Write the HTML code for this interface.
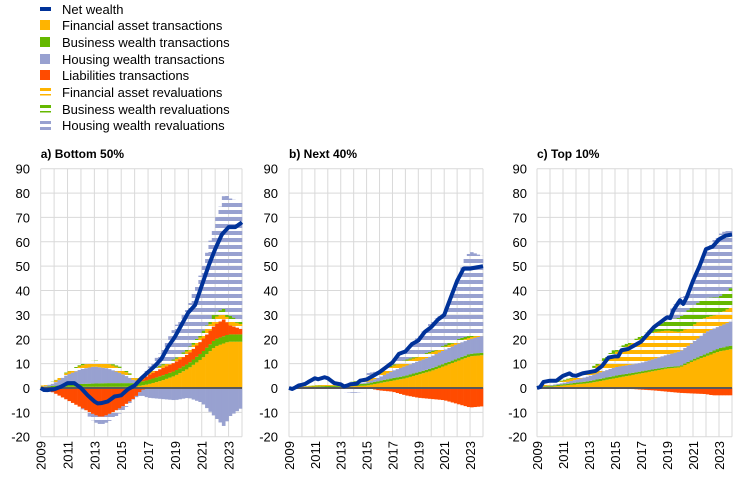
<!DOCTYPE html>
<html><head><meta charset="utf-8"><style>
html,body{margin:0;padding:0;background:#fff;}
svg{display:block;font-family:"Liberation Sans",Arial,sans-serif;}
</style></head><body>
<svg id="s" width="744" height="477" viewBox="0 0 744 477" xmlns="http://www.w3.org/2000/svg">
<defs>
<pattern id="pY" patternUnits="userSpaceOnUse" width="8" height="7"><rect width="8" height="4" fill="#ffb400"/></pattern>
<pattern id="pG" patternUnits="userSpaceOnUse" width="8" height="7"><rect width="8" height="4" fill="#65b800"/></pattern>
<pattern id="pL" patternUnits="userSpaceOnUse" width="8" height="7"><rect width="8" height="4" fill="#98a1d0"/></pattern>
</defs>
<g font-size="13" fill="#000">
<rect x="40" y="7" width="11" height="4" fill="#003299"/><text x="62" y="14">Net wealth</text>
<rect x="40" y="20" width="10" height="10" fill="#ffb400"/><text x="62" y="30">Financial asset transactions</text>
<rect x="40" y="37" width="10" height="10" fill="#65b800"/><text x="62" y="47">Business wealth transactions</text>
<rect x="40" y="54" width="10" height="10" fill="#98a1d0"/><text x="62" y="64">Housing wealth transactions</text>
<rect x="40" y="70" width="10" height="10" fill="#ff4b00"/><text x="62" y="80">Liabilities transactions</text>
<rect x="40" y="88" width="11" height="3" fill="#ffb400"/><rect x="40" y="94" width="11" height="1.5" fill="#ffb400"/><text x="62" y="97">Financial asset revaluations</text>
<rect x="40" y="105" width="11" height="3" fill="#65b800"/><rect x="40" y="111" width="11" height="1.5" fill="#65b800"/><text x="62" y="114">Business wealth revaluations</text>
<rect x="40" y="121" width="11" height="3" fill="#98a1d0"/><rect x="40" y="127" width="11" height="3" fill="#98a1d0"/><text x="62" y="130">Housing wealth revaluations</text>
</g>
<g id="charts"></g>
</svg>
<script>
var NS="http://www.w3.org/2000/svg";
var root=document.getElementById("charts");
function el(n,a,t){var e=document.createElementNS(NS,n);for(var k in a)e.setAttribute(k,a[k]);if(t!==undefined)e.textContent=t;root.appendChild(e);return e;}
function interp(pts,t){var ks=Object.keys(pts).map(Number).sort(function(a,b){return a-b});
 if(t<=ks[0])return pts[ks[0]];if(t>=ks[ks.length-1])return pts[ks[ks.length-1]];
 for(var i=0;i<ks.length-1;i++){if(t>=ks[i]&&t<=ks[i+1]){var f=(t-ks[i])/(ks[i+1]-ks[i]);return pts[ks[i]]+f*(pts[ks[i+1]]-pts[ks[i]]);}}return 0;}
var Y0=388,SC=219.3/90;
function Y(v){return Y0-v*SC;}
var C={yS:"#ffb400",gS:"#65b800",lS:"#98a1d0",rS:"#ff4b00",yP:"url(#pY)",gP:"url(#pG)",lP:"url(#pL)"};
var panels=[
{L:40.7,R:242,lab:30,title:"a) Bottom 50%",
 pos:[["yS",{2009:0,2011:0.5,2016:0.5,2017:1.5,2018:3,2019:5,2020:8,2021:12,2022:17,2023:19,2024:19}],
 ["gS",{2009:0.3,2011:1,2014:1.5,2016:1.5,2018:2,2020:2,2022:3,2024:3}],
 ["rS",{2009:0,2016:0,2016.5:0.5,2017:2,2018:3,2019:3.5,2020:4,2021:5,2022:6,2022.7:7,2023:4,2024:2}],
 ["lS",{2009:0,2010:1,2011:4,2012:6,2013:7,2014:6,2015:4,2016:1,2016.5:0,2024:0}],
 ["yP",{2009:0.5,2011:1,2013:2,2015:2,2016:1,2017:1,2019:1,2021:2,2022:3,2023:2,2024:2}],
 ["gP",{2009:0,2012:0.5,2016:0.5,2019:0.5,2021:1,2022:2,2023:2,2024:1}],
 ["lP",{2009:0,2016:0,2017:8,2018:15,2019:25,2020:33,2021:48,2022:68,2022.7:80,2023:78,2024:76},true]],
 neg:[["rS",{2009:0,2010:-2,2011:-5,2012:-8,2013:-11,2013.5:-12,2014:-11,2015:-8,2016:-4,2016.5:-1,2017:0,2024:0}],
 ["lS",{2009:0,2016:0,2016.5:-2,2017:-4,2019:-5,2020:-4,2021:-6,2022:-12,2022.7:-16,2023:-12,2024:-8}],
 ["lP",{2009:0,2012:0,2013:-3,2014:-3,2015:-2,2016:0,2024:0}]],
 line:{2009:0,2009.3:-1,2010:-0.5,2010.5:0.5,2011:2,2011.5:2,2012:0,2012.5:-3,2013:-5.5,2013.3:-6.5,2014:-5.5,2014.5:-3.5,2015:-3,2015.5:-0.5,2016:1,2016.5:4,2017:6.5,2017.5:9,2018:12,2018.5:17,2019:21,2019.5:26,2020:31,2020.5:34,2021:42,2021.5:50,2022:57,2022.5:63,2023:66,2023.5:66,2024:68}},
{L:289,R:483,lab:278,title:"b) Next 40%",
 pos:[["yS",{2009:0,2011:0.3,2013:0.5,2015:1,2016:2,2017:3,2018:4,2019:5.5,2020:7,2021:9,2022:11,2023:13,2024:13.5}],
 ["gS",{2009:0.2,2013:0.5,2015:0.8,2017:1,2020:1,2024:1}],
 ["lS",{2009:0,2014:0,2015:0.5,2016:1.5,2017:3,2018:4,2019:4.5,2020:5,2021:5.5,2022:6,2023:6,2024:7}],
 ["yP",{2009:0,2012:0.5,2014:1,2016:1.5,2017:2,2018:2,2020:1.5,2022:1,2024:0.5}],
 ["gP",{2009:0,2015:0.3,2018:0.5,2020:0.5,2022:1,2024:0.5}],
 ["lP",{2009:0,2014:0,2015:6,2016:7,2017:11,2018:16,2019:21,2020:27,2021:31,2022:42,2022.5:52,2023:56,2024:54},true]],
 neg:[["rS",{2009:0,2015:0,2016:-1,2017:-1.5,2018:-3,2019:-4,2020:-4.5,2021:-5,2022:-6.5,2023:-8,2024:-7.5}],
 ["lP",{2009:0,2012.8:0,2013:-1.5,2014:-2,2015:-1.5,2015.5:0,2024:0}]],
 line:{2009:0,2009.3:-0.5,2009.7:1,2010.2:1.5,2010.5:2.5,2011:4,2011.3:3.5,2011.7:4.5,2012:4,2012.5:2,2013:1.5,2013.3:0.5,2013.7:1.5,2014.3:1.8,2014.5:3,2015:3.5,2015.5:5,2016:6.5,2016.5:8.5,2017:10.5,2017.5:14,2018:15,2018.5:18,2019:19.5,2019.5:23,2020:25,2020.5:28,2021:30,2021.5:37,2022:44,2022.5:49,2023:49,2024:50}},
{L:537,R:732,lab:527,title:"c) Top 10%",
 pos:[["yS",{2009:0,2011:1,2013:2,2015:4,2017:6,2019:8,2020:8.5,2021:11,2022:13,2023:15,2024:16}],
 ["gS",{2009:0.2,2013:0.8,2015:1,2020:0.5,2024:1.5}],
 ["lS",{2009:0,2011:0.5,2013:2,2015:3.5,2017:3.5,2019:5,2020:6,2021:7,2022:9,2023:9,2024:10}],
 ["yP",{2009:0.5,2012:1,2013:2,2014:4,2015:6,2016:8,2017:10,2018:11,2019:10,2020:8,2021:7,2022:6,2023:5,2024:6}],
 ["gP",{2009:0,2012:0.5,2014:1,2015:1.5,2016:1,2017:1,2018:2,2019:4,2020:6,2021:8,2022:8,2023:7,2024:8}],
 ["lP",{2009:0,2013:4,2014:10,2015:14,2016:17,2017:21,2018:24,2019:30,2020:37,2020.5:38,2021:44,2022:57,2023:63,2024:66},true]],
 neg:[["rS",{2009:0,2015:0,2016:-0.3,2018:-1,2019:-1.5,2020:-2,2022:-2.5,2022.5:-3,2024:-3}],
 ["lP",{2009:0,2012.8:0,2013:-1,2014:-1,2015:-0.5,2015.3:0,2024:0}]],
 line:{2009:0,2009.3:0.5,2009.5:2.5,2010:3,2010.5:3,2011:5,2011.5:6,2011.8:5,2012:5,2012.5:6,2013:6.5,2013.5:7,2014:9,2014.5:12.5,2015:13,2015.2:12.5,2015.5:15.5,2016:16,2016.5:17.5,2017:19,2017.5:22,2018:25,2018.5:27,2019:29,2019.2:28,2019.5:32,2020:36,2020.2:34,2020.5:37,2021:44,2021.5:50,2022:57,2022.5:58,2023:61,2023.5:62.5,2024:63}}
];
panels.forEach(function(p){
 var W=(p.R-p.L)/60, yw=(p.R-p.L)/15;
 for(var v=-20;v<=90;v+=10){el("line",{x1:p.L,x2:p.R,y1:Y(v),y2:Y(v),stroke:"#d9d9d9","stroke-width":1});
  el("text",{x:p.lab,y:Y(v)+5,"text-anchor":"end","font-size":"13",fill:"#000"},String(v));}
 for(var k=0;k<=15;k++){var x=p.L+k*yw;el("line",{x1:x,x2:x,y1:Y(90),y2:Y(-20),stroke:"#d9d9d9","stroke-width":1});}
 for(var yr=2009;yr<=2023;yr+=2){var x=p.L+(yr-2009)*yw+5;
  el("text",{transform:"translate("+x+",441) rotate(-90)","text-anchor":"end","font-size":"13",fill:"#000"},String(yr));}
 el("text",{x:p.L,y:158,"font-size":"12","font-weight":"bold",fill:"#000"},p.title);
 for(var i=0;i<60;i++){
  var t=2009+(i+0.5)/4,x=p.L+i*W,cum=0;
  p.pos.forEach(function(l){var v=interp(l[1],t);if(l[2])v=Math.max(0,v-cum);
   if(v>0.01){el("rect",{x:x.toFixed(2),y:Y(cum+v).toFixed(2),width:(W+0.3).toFixed(2),height:(v*SC).toFixed(2),fill:C[l[0]]});}cum+=v;});
  cum=0;
  p.neg.forEach(function(l){var v=interp(l[1],t);
   if(v<-0.01){el("rect",{x:x.toFixed(2),y:Y(cum).toFixed(2),width:(W+0.3).toFixed(2),height:(-v*SC).toFixed(2),fill:C[l[0]]});}cum+=v;});
 }
 el("line",{x1:p.L,x2:p.R,y1:Y0,y2:Y0,stroke:"#595959","stroke-width":2});
 var pts=[];for(var i=0;i<=60;i++){var t=2009+i/4;pts.push((p.L+i*W).toFixed(2)+","+Y(interp(p.line,t)).toFixed(2));}
 el("polyline",{points:pts.join(" "),fill:"none",stroke:"#003299","stroke-width":4,"stroke-linejoin":"round"});
});
</script>
</body></html>
